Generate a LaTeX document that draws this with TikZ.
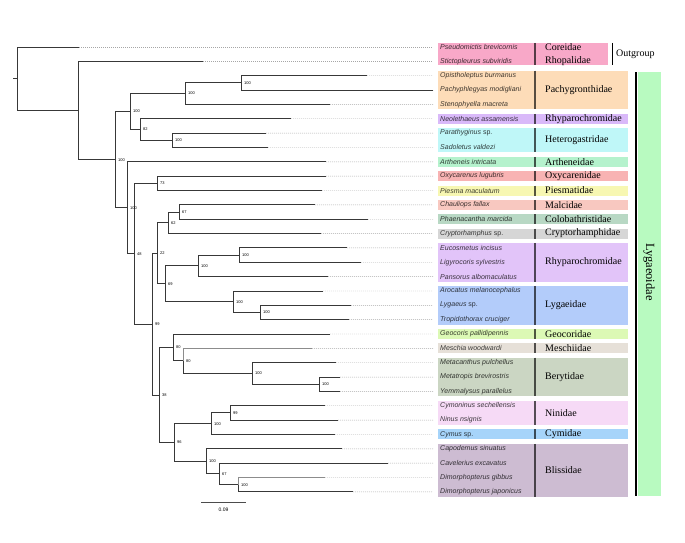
\documentclass[tikz,border=0pt]{standalone}
\usepackage{fontspec}
\setmainfont{Liberation Serif}
\newfontfamily\spfont{Liberation Sans}
\usepackage{tkz-euclide}
\usetikzlibrary{calc}
\usetikzlibrary{positioning}

\definecolor{cCor}{HTML}{F8A8C8}
\definecolor{cPach}{HTML}{FDDCB8}
\definecolor{cRhyA}{HTML}{D9B9F9}
\definecolor{cHet}{HTML}{BFF7F8}
\definecolor{cArt}{HTML}{B5F2CD}
\definecolor{cOxy}{HTML}{F8B3B3}
\definecolor{cPie}{HTML}{F7F7B2}
\definecolor{cMal}{HTML}{F8C8C0}
\definecolor{cCol}{HTML}{B8D8C4}
\definecolor{cCry}{HTML}{D6D6D6}
\definecolor{cRhyB}{HTML}{E2C4F9}
\definecolor{cLyg}{HTML}{B3CCFA}
\definecolor{cGeo}{HTML}{DCF9B5}
\definecolor{cMes}{HTML}{E6E0D8}
\definecolor{cBer}{HTML}{CBD6C3}
\definecolor{cNin}{HTML}{F6DAF6}
\definecolor{cCym}{HTML}{A6D4FA}
\definecolor{cBli}{HTML}{CDBCD2}
\definecolor{cSuper}{HTML}{B8FAC0}

\tikzset{
  branch/.style={draw=black!78, line width=0.9pt},
  branchgray/.style={draw=black!45, line width=0.9pt},
  tipline/.style={draw=black!35, line width=0.4pt, dash pattern=on 1pt off 1pt},
  boot/.style={anchor=west, inner sep=0.5pt, font=\spfont\fontsize{4}{4}\selectfont},
  taxon/.style={anchor=west, inner sep=0pt, font=\spfont\itshape\fontsize{7}{8}\selectfont},
  family/.style={anchor=west, inner sep=0pt, font=\fontsize{10}{11}\selectfont},
}

\begin{document}
\begin{tikzpicture}[x=1pt, y=-1pt]
      \useasboundingbox (0,0) rectangle (685,543);

      % inner nodes of the tree
      \tkzDefPoints{17/78.8/rt, 78/110.5/A, 115/159.7/B, 130/111.6/C, 185/93.6/D,
        241/82.9/E, 140/129.5/F, 172/140.3/G, 127/207.8/H, 134/253.7/I,
        157/183.3/J, 152/324.2/K, 157/253.3/L, 168/222.8/M, 179/212/N,
        165/283.8/O, 198/265.8/P, 239/255.1/Q, 233/301.7/R, 260/312.5/S,
        159/395/T, 173/347.5/U, 183/360.9/V, 252/373.5/W, 319/384.2/X,
        174/442.5/Y, 211/423.7/Z, 230/412.9/AA, 206/461.4/BB, 219/473.9/CC,
        238/484.7/DD}
      % ends of the tip branches
      \tkzDefPoints{79/47/t1, 203/61.35/t2, 367/75.7/t3, 433/90.05/t4,
        330/104.4/t5, 291/118.75/t6, 266/133.1/t7, 268/147.45/t8,
        326/161.8/t9, 326/176.15/t10, 322/190.5/t11, 315/204.85/t12,
        368/219.2/t13, 321/233.55/t14, 347/247.9/t15, 361/262.25/t16,
        328/276.6/t17, 323/290.95/t18, 351/305.3/t19, 349/319.65/t20,
        330/334/t21, 312/348.35/t22, 336/362.7/t23, 340/377.05/t24,
        340/391.4/t25, 325/405.75/t26, 338/420.1/t27, 335/434.45/t28,
        342/448.8/t29, 388/463.15/t30, 325/477.5/t31, 353/491.85/t32}

      % colour boxes of the families
      \fill[cCor] (438,43) rectangle (608,65);
      \draw[cCor!35!black, line width=1.3pt] (535,43) -- (535,65);
      \node[family] (famCor) at (545,47) {Coreidae};
      \node[family] (famRho) at (545,61.35) {Rhopalidae};
      \foreach \a/\b/\col/\fam in {3/5/cPach/Pachygronthidae, 6/6/cRhyA/Rhyparochromidae,
          7/8/cHet/Heterogastridae, 9/9/cArt/Artheneidae, 10/10/cOxy/Oxycarenidae,
          11/11/cPie/Piesmatidae, 12/12/cMal/Malcidae, 13/13/cCol/Colobathristidae,
          14/14/cCry/Cryptorhamphidae, 15/17/cRhyB/Rhyparochromidae, 18/20/cLyg/Lygaeidae,
          21/21/cGeo/Geocoridae, 22/22/cMes/Meschiidae, 23/25/cBer/Berytidae,
          26/27/cNin/Ninidae, 28/28/cCym/Cymidae, 29/32/cBli/Blissidae}{
        \pgfmathsetmacro{\ya}{47+(\a-1)*14.35-5}
        \pgfmathsetmacro{\yb}{47+(\b-1)*14.35+5}
        \fill[\col] (438,\ya) rectangle (628,\yb);
        \draw[\col!35!black, line width=1.3pt] (535,\ya) -- (535,\yb);
        \node[family] (fam\a) at (545,{(\ya+\yb)/2}) {\fam};
      }

      % outgroup and superfamily
      \coordinate (og1) at (612,43);
      \coordinate (og2) at (612,65);
      \draw[black, line width=1pt] (og1) -- (og2);
      \node[family] (outg) at (616,54) {Outgroup};
      \fill[cSuper] (637.5,72) rectangle (661,496);
      \coordinate (sup1) at (636,72);
      \coordinate (sup2) at (636,496);
      \draw[black, line width=1.3pt] (sup1) -- (sup2);
      \node[rotate=-90, inner sep=0pt, font=\fontsize{12.5}{13}\selectfont] (supf) at (649,272) {Lygaeoidae};

      % species
      \foreach \name/\col [count=\i] in {Pseudomictis brevicornis/cCor, Stictopleurus subviridis/cCor,
          Opistholeptus burmanus/cPach, Pachyphlegyas modigliani/cPach, Stenophyella macreta/cPach,
          Neolethaeus assamensis/cRhyA, Parathyginus \textup{sp.}/cHet, Sadoletus valdezi/cHet,
          Artheneis intricata/cArt, Oxycarenus lugubris/cOxy, Piesma maculatum/cPie,
          Chauliops fallax/cMal, Phaenacantha marcida/cCol, Cryptorhamphus \textup{sp.}/cCry,
          Eucosmetus incisus/cRhyB, Ligyrocoris sylvestris/cRhyB, Pansorus albomaculatus/cRhyB,
          Arocatus melanocephalus/cLyg, Lygaeus \textup{sp.}/cLyg, Tropidothorax cruciger/cLyg,
          Geocoris pallidipennis/cGeo, Meschia woodwardi/cMes, Metacanthus pulchellus/cBer,
          Metatropis brevirostris/cBer, Yemmalysus parallelus/cBer, Cymoninus sechellensis/cNin,
          Ninus nsignis/cNin, Cymus \textup{sp.}/cCym, Capodemus sinuatus/cBli,
          Cavelerius excavatus/cBli, Dimorphopterus gibbus/cBli, Dimorphopterus japonicus/cBli}{
        \coordinate (l\i) at (433,{47+(\i-1)*14.35});
        \draw[tipline] (t\i) -- (l\i);
        \node[taxon, text=\col!25!black] (s\i) at (440,{47+(\i-1)*14.35}) {\name};
      }

      % branches
      \draw[branch] (rt) -- ++(-4,0);
      \foreach \p/\c in {rt/t1, rt/A, A/t2, A/B, B/C, B/H, C/D, C/F, D/E, D/t5, E/t3, E/t4,
          F/t6, F/G, G/t7, G/t8, H/t9, H/I, I/J, I/K, J/t10, J/t11, K/L, K/T,
          L/M, L/O, M/N, M/t14, N/t12, N/t13, O/P, O/R, P/Q, P/t17, Q/t15, Q/t16,
          R/t18, R/S, S/t19, S/t20, T/U, T/Y, U/t21, U/V, V/W, W/t23, W/X,
          X/t24, X/t25, Y/Z, Y/BB, Z/AA, Z/t28, AA/t26, AA/t27, BB/t29, BB/CC,
          CC/t30, CC/DD, DD/t32}
        \draw[branch] (\p) |- (\c);
      \draw[branchgray] (V) |- (t22);
      \draw[branchgray] (DD) |- (t31);

      % support values
      \foreach \p/\v in {B/100, C/100, D/100, E/100, F/82, G/100, H/100, I/48, J/73,
          K/99, L/22, M/62, N/67, O/69, P/100, Q/100, R/100, S/100, T/38, U/80,
          V/80, W/100, X/100, Y/96, Z/100, AA/99, BB/100, CC/67, DD/100}
        \node[boot, xshift=2.5pt] (bs\p) at (\p) {\v};

      % scale
      \coordinate (sc1) at (201,502);
      \coordinate (sc2) at (246,502);
      \draw[black!70, line width=0.6pt] (sc1) -- (sc2);
      \node[inner sep=0pt, font=\spfont\fontsize{5}{5}\selectfont] (scl) at (223.5,510) {0.09};
\end{tikzpicture}
\end{document}
